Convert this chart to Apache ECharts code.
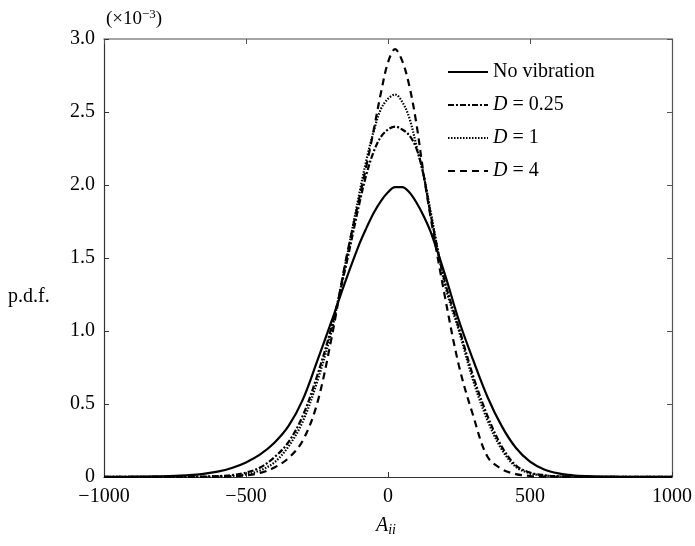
<!DOCTYPE html>
<html>
<head>
<meta charset="utf-8">
<script src="https://cdn.jsdelivr.net/npm/echarts@6/dist/echarts.min.js"></script>
<style>
html,body{margin:0;padding:0;background:#fff;}
#c{width:695px;height:546px;}
</style>
</head>
<body>
<div id="c"></div>
<script>
// Data (p.d.f. in units of 1e-3)
const xs = [-1000,-950,-900,-850,-800,-750,-700,-650,-600,-550,-500,-450,-400,-350,-300,-250,-200,-150,-100,-75,-50,-25,0,25,50,75,100,125,150,200,250,300,350,400,450,500,550,600,650,700,750,800,850,900,950,1000];
const noVibration = [0.001,0.001,0.002,0.003,0.005,0.008,0.013,0.022,0.037,0.062,0.10,0.155,0.235,0.35,0.53,0.79,1.06,1.34,1.60,1.71,1.81,1.89,1.95,1.985,1.985,1.95,1.88,1.79,1.68,1.39,1.07,0.80,0.55,0.35,0.20,0.105,0.052,0.025,0.012,0.006,0.003,0.002,0.001,0.001,0.001,0.001];
const d025 = [0.001,0.001,0.001,0.001,0.001,0.001,0.002,0.003,0.006,0.013,0.03,0.065,0.135,0.24,0.42,0.69,1.02,1.43,1.88,2.08,2.23,2.33,2.38,2.40,2.38,2.34,2.25,2.07,1.80,1.34,1.02,0.69,0.42,0.21,0.08,0.03,0.012,0.005,0.002,0.001,0.0005,0.0005,0.0005,0.0005,0.0005,0.0005];
const d1 = [0.0005,0.0005,0.0005,0.0005,0.0005,0.0005,0.0005,0.001,0.003,0.007,0.018,0.045,0.10,0.21,0.38,0.65,0.99,1.46,1.95,2.18,2.37,2.52,2.59,2.62,2.57,2.46,2.27,2.07,1.82,1.32,1.00,0.66,0.39,0.19,0.07,0.025,0.01,0.004,0.002,0.001,0.0005,0.0005,0.0005,0.0005,0.0005,0.0005];
const d4 = [0,0,0,0,0,0,0,0,0.002,0.005,0.011,0.028,0.065,0.13,0.25,0.50,0.94,1.47,1.92,2.14,2.38,2.63,2.84,2.93,2.85,2.68,2.42,2.08,1.78,1.24,0.76,0.42,0.14,0.055,0.02,0.007,0.003,0.001,0,0,0,0,0,0,0,0];
const seriesNames = ['No vibration','D = 0.25','D = 1','D = 4'];

const pair = arr => xs.map((x,i)=>[x,arr[i]]);
const font = 'Liberation Serif';
const fmtX = v => (v<0 ? '\u2212'+Math.abs(v) : String(v));
const fmtY = v => (v===0 ? '0' : v.toFixed(1));

const chart = echarts.init(document.getElementById('c'));
const mkSeries = (name, data, type, width) => ({
  name, type:'line', data: pair(data), showSymbol:false, symbol:'none',
  smooth:0.35, xAxisIndex:0, yAxisIndex:0,
  lineStyle:{color:'#000', width, type},
  itemStyle:{color:'#000'}
});
chart.setOption({
  animation:false,
  backgroundColor:'#fff',
  grid:{left:104,right:21,top:39,bottom:69},
  xAxis:[{
    type:'value', min:-1000, max:1000, interval:500, position:'bottom',
    axisLine:{show:true,onZero:false,lineStyle:{color:'#333',width:1.2}},
    axisTick:{show:true,inside:true,length:5,lineStyle:{color:'#333'}},
    axisLabel:{color:'#000',fontFamily:font,fontSize:20,margin:10,formatter:fmtX},
    splitLine:{show:false}
  },{
    type:'value', min:-1000, max:1000, interval:500, position:'top',
    axisLine:{show:true,onZero:false,lineStyle:{color:'#888',width:1.5}},
    axisTick:{show:true,inside:true,length:5,lineStyle:{color:'#555'}},
    axisLabel:{show:false}, splitLine:{show:false}
  }],
  yAxis:[{
    type:'value', min:0, max:3, interval:0.5, position:'left',
    axisLine:{show:true,onZero:false,lineStyle:{color:'#333',width:1.2}},
    axisTick:{show:true,inside:true,length:5,lineStyle:{color:'#333'}},
    axisLabel:{color:'#000',fontFamily:font,fontSize:20,margin:9,formatter:fmtY},
    splitLine:{show:false}
  },{
    type:'value', min:0, max:3, interval:0.5, position:'right',
    axisLine:{show:true,onZero:false,lineStyle:{color:'#555',width:1.2}},
    axisTick:{show:true,inside:true,length:5,lineStyle:{color:'#555'}},
    axisLabel:{show:false}, splitLine:{show:false}
  }],
  legend:{
    show:true,
    orient:'vertical', left:442, top:57, itemWidth:40, itemHeight:14, itemGap:13,
    itemTextGap:12,
    data:seriesNames,
    itemStyle:{color:'rgba(0,0,0,0)',borderWidth:0,opacity:0},
    textStyle:{fontFamily:font,fontSize:20,color:'#000',
      rich:{i:{fontFamily:font,fontSize:20,fontStyle:'italic',color:'#000'},
            n:{fontFamily:font,fontSize:20,color:'#000'}}},
    formatter: function(name){ return name.charAt(0)==='D' ? '{i|D}{n|'+name.slice(1)+'}' : name; }
  },
  series:[
    mkSeries(seriesNames[0], noVibration, 'solid', 2.2),
    mkSeries(seriesNames[1], d025, [6,2,2,2], 2.2),
    mkSeries(seriesNames[2], d1, [1.5,1.5], 2.2),
    mkSeries(seriesNames[3], d4, [7,5], 2.2)
  ],
  graphic:[
    {type:'text', left:8, top:287, style:{text:'p.d.f.', font:'20px "Liberation Serif"', fill:'#000'}},
    {type:'text', left:106, top:8, style:{
      text:'{p|(\u00d710}{s|\u22123}{p|)}',
      rich:{p:{font:'19px "Liberation Serif"',fill:'#000',verticalAlign:'bottom'},
            s:{font:'13px "Liberation Serif"',fill:'#000',verticalAlign:'top',padding:[0,0,8,0]}}}},
    {type:'text', left:376, top:516, style:{
      text:'{a|A}{s|ii}',
      rich:{a:{font:'italic 20px "Liberation Serif"',fill:'#000'},
            s:{font:'italic 14px "Liberation Serif"',fill:'#000',padding:[8,0,0,0]}}}}
  ]
});
</script>
</body>
</html>
